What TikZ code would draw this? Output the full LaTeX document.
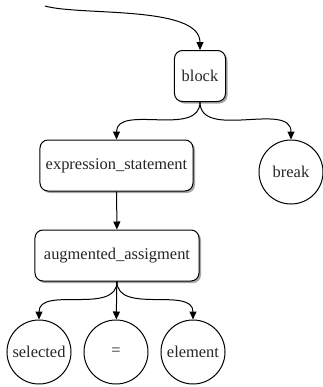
\documentclass[tikz,border=0pt]{standalone}
\usepackage{fontspec}
\setmainfont{Liberation Serif}
\usetikzlibrary{arrows.meta,shadows}

\begin{document}
\begin{tikzpicture}[x=1bp, y=-1bp, line width=1bp,
				    >={Triangle[length=8bp,width=7bp]},
				    box/.style={draw, rounded corners=8bp, fill=white,
				    			  text centered, text=black!85, inner sep=0pt,
				    			  minimum height=51bp,
				    			  drop shadow={shadow xshift=2bp, shadow yshift=-2bp, fill=black!35, opacity=1}},
				    leaf/.style={draw, circle, fill=white, text=black!85,
				    			  inner sep=0pt, minimum size=64bp},
				    every node/.style={font=\fontsize{16.5}{19}\selectfont}]
	\useasboundingbox (0, 0) rectangle (323, 387);

	\coordinate (in) at (45, 6);
	\node[box, minimum width=51bp] (block) at (200, 76) {block};
	\node[box, minimum width=153bp] (expr) at (116.5, 165.5) {expression\_statement};
	\node[leaf] (brk) at (291, 172) {break};
	\node[box, minimum width=164bp] (aug) at (117, 255.5) {augmented\_assigment};
	\node[leaf] (sel) at (39, 352) {selected};
	\node[leaf] (eq) at (116, 352) {=};
	\node[leaf] (elem) at (193, 352) {element};

	\draw[->] 	(in) .. controls (80, 16) and (200, 5) .. (block.north);
	\path[->] 	(block)  edge[out=-90, in=90]   (expr.north);
	\path[->] 	(block)  edge[out=-90, in=90]   (brk);
	\path[->] 	(expr)  edge   (aug);
	\path[->] 	(aug)  edge[out=-90, in=90]   (sel);
	\path[->] 	(aug)  edge   (eq);
	\path[->] 	(aug)  edge[out=-90, in=90]   (elem);

\end{tikzpicture}
\end{document}
